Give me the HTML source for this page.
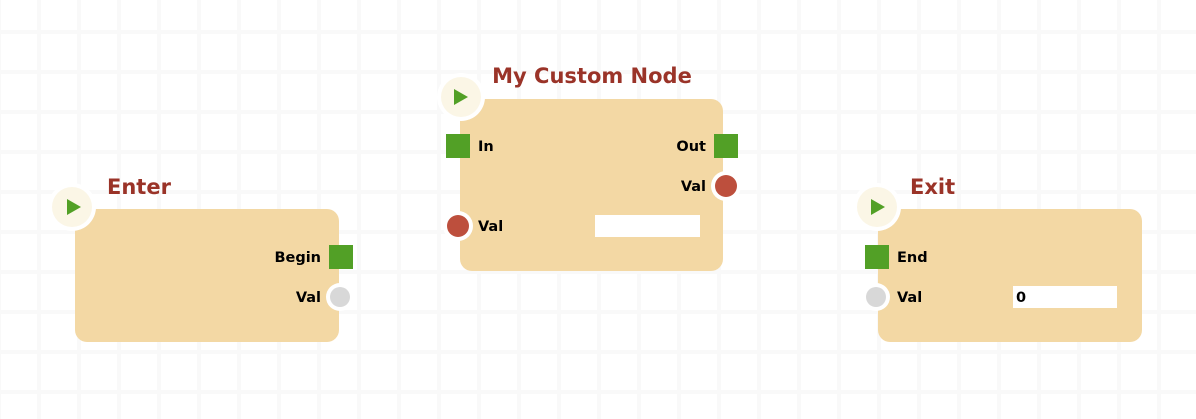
<!DOCTYPE html>
<html><head><meta charset="utf-8"><style>
html,body{margin:0;padding:0;background:#fff;}
svg{display:block}
text{font-family:"DejaVu Sans","Liberation Sans",sans-serif;font-weight:bold}
</style></head><body>
<svg width="1196" height="419" viewBox="0 0 1196 419" xmlns="http://www.w3.org/2000/svg">
<defs>
<pattern id="g" width="40" height="40" patternUnits="userSpaceOnUse" x="-3" y="-10">
<rect width="40" height="40" fill="#fff"/>
<rect x="0" y="0" width="4" height="40" fill="#f9f9f9"/>
<rect x="0" y="0" width="40" height="4" fill="#f9f9f9"/>
</pattern>
</defs>
<rect width="1196" height="419" fill="url(#g)"/>

<!-- Enter -->
<rect x="75" y="209" width="264" height="133" rx="12" fill="#f3d8a4"/>
<circle cx="72" cy="207" r="24" fill="#fff"/>
<circle cx="72" cy="207" r="20" fill="#fbf6e6"/>
<polygon points="67,199 67,215 81,207" fill="#52a026"/>
<text x="107" y="194" font-size="21" fill="#9a3328">Enter</text>
<rect x="329" y="245" width="24" height="24" fill="#52a026"/>
<text x="321" y="262" font-size="14.5" text-anchor="end" fill="#000">Begin</text>
<circle cx="340" cy="297" r="14" fill="#fff"/>
<circle cx="340" cy="297" r="10" fill="#d8d8d8"/>
<text x="321" y="302" font-size="14.5" text-anchor="end" fill="#000">Val</text>

<!-- My Custom Node -->
<rect x="460" y="99" width="263" height="172" rx="12" fill="#f3d8a4"/>
<circle cx="461" cy="97" r="24" fill="#fff"/>
<circle cx="461" cy="97" r="20" fill="#fbf6e6"/>
<polygon points="454,89 454,105 468,97" fill="#52a026"/>
<text x="592" y="83" font-size="21" fill="#9a3328" text-anchor="middle">My Custom Node</text>
<rect x="446" y="134" width="24" height="24" fill="#52a026"/>
<text x="478" y="151" font-size="14.5" fill="#000">In</text>
<rect x="714" y="134" width="24" height="24" fill="#52a026"/>
<text x="706" y="151" font-size="14.5" text-anchor="end" fill="#000">Out</text>
<circle cx="726" cy="186" r="15" fill="#fff"/>
<circle cx="726" cy="186" r="11" fill="#bd4f3d"/>
<text x="706" y="191" font-size="14.5" text-anchor="end" fill="#000">Val</text>
<circle cx="458" cy="226" r="15" fill="#fff"/>
<circle cx="458" cy="226" r="11" fill="#bd4f3d"/>
<text x="478" y="231" font-size="14.5" fill="#000">Val</text>
<rect x="595" y="215" width="105" height="22" fill="#fff"/>

<!-- Exit -->
<rect x="878" y="209" width="264" height="133" rx="12" fill="#f3d8a4"/>
<circle cx="877" cy="207" r="24" fill="#fff"/>
<circle cx="877" cy="207" r="20" fill="#fbf6e6"/>
<polygon points="871,199 871,215 885,207" fill="#52a026"/>
<text x="910" y="194" font-size="21" fill="#9a3328">Exit</text>
<rect x="865" y="245" width="24" height="24" fill="#52a026"/>
<text x="897" y="262" font-size="14.5" fill="#000">End</text>
<circle cx="876" cy="297" r="14" fill="#fff"/>
<circle cx="876" cy="297" r="10" fill="#d8d8d8"/>
<text x="897" y="302" font-size="14.5" fill="#000">Val</text>
<rect x="1013" y="286" width="104" height="22" fill="#fff"/>
<text x="1016" y="302" font-size="14.5" fill="#000">0</text>
</svg>
</body></html>
